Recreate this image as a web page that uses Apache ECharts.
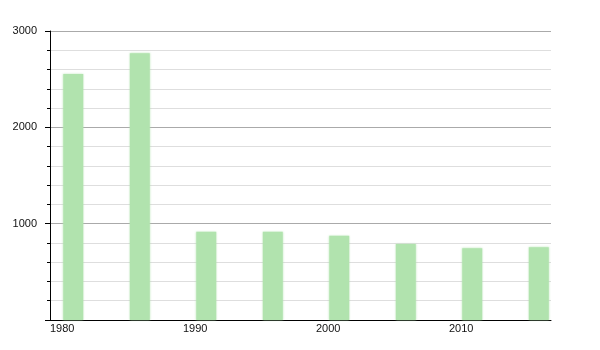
<!DOCTYPE html>
<html>
<head>
<meta charset="utf-8">
<script src="https://cdn.jsdelivr.net/npm/echarts@6/dist/echarts.min.js"></script>
<style>
html,body{margin:0;padding:0;background:#fff;}
#chart{width:600px;height:350px;}
</style>
</head>
<body>
<div id="chart"></div>
<script>
var years = [1981, 1986, 1991, 1996, 2001, 2006, 2011, 2016];
var population = [2554, 2768, 917, 917, 875, 789, 744, 755];
var barSpan = 1.5;

var chart = echarts.init(document.getElementById('chart'), null, {renderer: 'canvas'});
var data = years.map(function (y, i) { return [y, population[i]]; });

chart.setOption({
  animation: false,
  backgroundColor: '#fff',
  grid: {left: 50, top: 31, right: 49, bottom: 30, containLabel: false},
  xAxis: {
    type: 'value',
    min: 1980,
    max: 2017.67,
    interval: 10,
    axisLine: {show: true, onZero: false, lineStyle: {color: '#000', width: 1}},
    axisTick: {show: false},
    splitLine: {show: false},
    axisLabel: {
      show: true, showMaxLabel: false, align: 'left', margin: 3,
      color: '#111', fontSize: 11, fontFamily: 'Liberation Sans, Arial, sans-serif',
      formatter: function (v) { return String(v); }
    }
  },
  yAxis: {
    type: 'value',
    min: 0,
    max: 3000,
    interval: 1000,
    axisLine: {show: true, lineStyle: {color: '#000', width: 1}},
    axisTick: {show: true, length: 5, lineStyle: {color: '#000'}},
    minorTick: {show: true, splitNumber: 5, length: 3, lineStyle: {color: '#000'}},
    splitLine: {show: true, lineStyle: {color: '#aaaaaa', width: 1}},
    minorSplitLine: {show: true, lineStyle: {color: '#dedede', width: 1}},
    axisLabel: {
      show: true, showMinLabel: false, margin: 13,
      color: '#111', fontSize: 11, fontFamily: 'Liberation Sans, Arial, sans-serif',
      formatter: function (v) { return String(v); }
    }
  },
  series: [{
    type: 'custom',
    data: data,
    encode: {x: 0, y: 1},
    renderItem: function (params, api) {
      var x0 = api.value(0);
      var v = api.value(1);
      var p1 = api.coord([x0, v]);
      var p2 = api.coord([x0 + barSpan, 0]);
      return {
        type: 'rect',
        shape: {x: p1[0], y: p1[1], width: p2[0] - p1[0], height: p2[1] - p1[1]},
        style: {fill: '#b1e3ae', shadowBlur: 2, shadowColor: 'rgba(177,227,174,0.8)'}
      };
    }
  }]
});
</script>
</body>
</html>
